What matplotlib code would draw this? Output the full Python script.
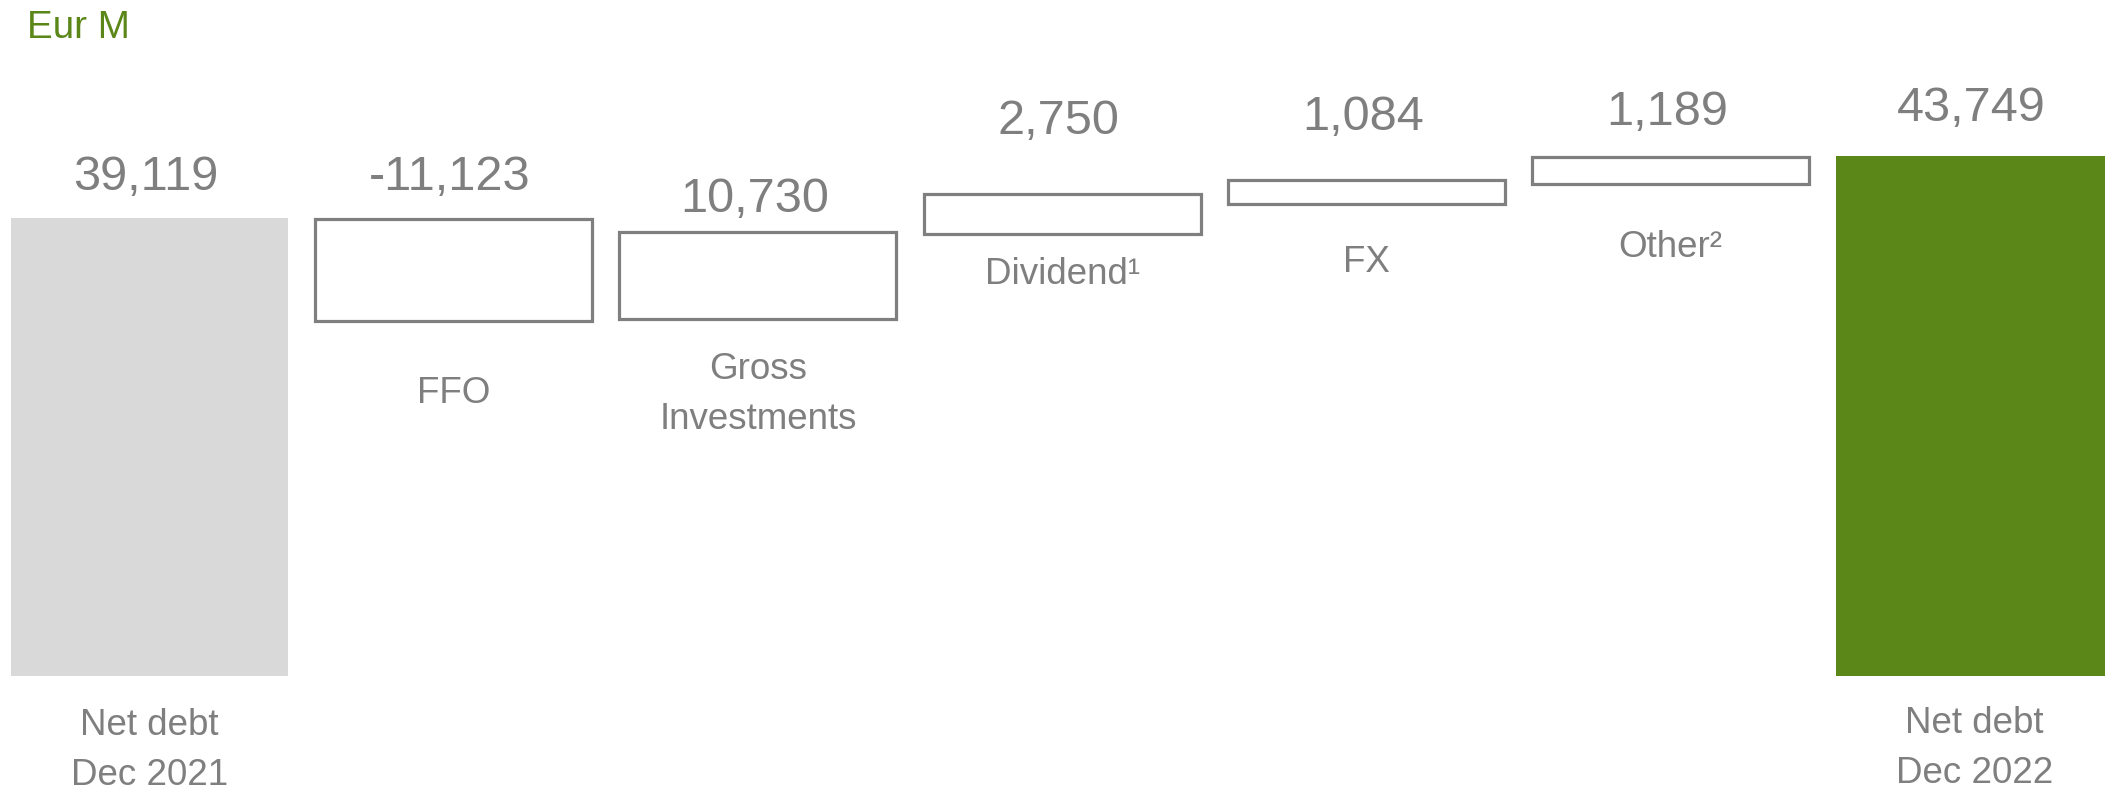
import matplotlib.pyplot as plt
from matplotlib.patches import Rectangle

# Datos del gráfico (Eur M)
categorias = ["Net debt\nDec 2021", "FFO", "Gross\nInvestments", "Dividend\u00b9", "FX", "Other\u00b2", "Net debt\nDec 2022"]
valores = ["39,119", "-11,123", "10,730", "2,750", "1,084", "1,189", "43,749"]

# Extremos de cada caja tal como se ven en la imagen (no están a escala)
caja_abajo = [0, 29870, 30030, 37190, 39710, 41390, 0]
caja_arriba = [38530, 38450, 37350, 40550, 41730, 43660, 43749]

# Posición vertical (línea base de la última línea) de las etiquetas
y_valor = [40890, 40890, 39040, 45600, 45930, 46360, 46690]
y_categoria = [-9170, 22970, 20780, 32980, 33990, 35250, -9000]

GRIS = "#7f7f7f"
VERDE = "#5b8719"
GRIS_CLARO = "#d9d9d9"

plt.rcParams["font.family"] = ["Liberation Sans", "DejaVu Sans"]

fig = plt.figure(figsize=(21.05, 7.89), dpi=100)
ax = fig.add_axes([0, 0, 1, 1])

# escala: la barra final (43,749) mide 520 px
eur_por_px = 43749 / 520
ax.set_ylim(-(789 - 676) * eur_por_px, 676 * eur_por_px)
ax.set_xlim(-149.5 / 304.2, (2105 - 149.5) / 304.2)
ax.axis("off")

ancho = 0.91
ultimo = len(categorias) - 1
for i in range(len(categorias)):
    alto = caja_arriba[i] - caja_abajo[i]
    if i == 0:
        ax.bar(i, alto, bottom=caja_abajo[i], width=ancho, color=GRIS_CLARO)
    elif i == ultimo:
        ax.bar(i, alto, bottom=caja_abajo[i], width=ancho, color=VERDE)
    else:
        ax.add_patch(Rectangle((i - ancho / 2, caja_abajo[i]), ancho, alto,
                               facecolor="white", edgecolor=GRIS, linewidth=2.3))

    ax.text(i - 0.012, y_valor[i], valores[i], ha="center", va="baseline",
            fontsize=35, color=GRIS)
    ax.text(i, y_categoria[i], categorias[i], ha="center", va="baseline",
            fontsize=26.5, color=GRIS, linespacing=1.55)

fig.text(27 / 2105, 1 - 37.7 / 789, "Eur M", ha="left", va="baseline",
         fontsize=27.8, color=VERDE)

fig.savefig("out.png", dpi=100)
